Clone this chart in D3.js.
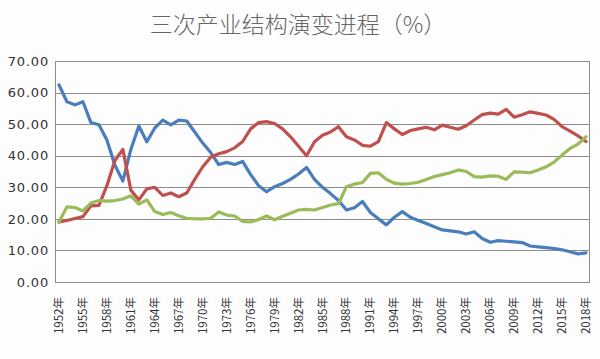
<!DOCTYPE html>
<html>
<head>
<meta charset="utf-8">
<script src="https://cdn.jsdelivr.net/npm/d3@7"></script>
<style>
html,body{margin:0;padding:0;background:#fdfdfd;}
svg{display:block;}
</style>
</head>
<body>
<svg id="chart" width="600" height="359"></svg>
<script>
const title = "三次产业结构演变进程（%）";
const years = d3.range(1952, 2019);
const yTicks = [0, 10, 20, 30, 40, 50, 60, 70];
const primary = [62.4,57.1,56.1,57.1,50.5,49.8,45,37,32,42,49.4,44.4,48.8,51.3,49.8,51.3,51,47.5,44,41,37.2,37.9,37.2,38.2,34,30.5,28.6,30.2,31.2,32.5,34.2,36.3,32.5,30,28,25.8,22.8,23.5,25.5,22,20,18.1,20.5,22.3,20.5,19.5,18.5,17.5,16.5,16.2,15.9,15.2,15.9,13.8,12.6,13.1,12.9,12.7,12.5,11.4,11.1,10.9,10.6,10.2,9.6,8.9,9.2];
const secondary = [19,19.5,20.1,20.7,24.1,24.3,30.5,38.5,42,29.1,26,29.5,30,27.4,28.2,27,28.2,32.5,36.5,39.5,40.6,41.3,42.5,44.5,48.5,50.5,50.8,50.2,48.5,46,43,40,44.4,46.5,47.5,49.2,46,45,43.3,43,44.5,50.5,48.5,46.7,48,48.5,49,48.2,49.7,49,48.4,49.5,51.3,53,53.5,53.2,54.7,52.2,53,53.9,53.4,52.9,51.5,49.2,47.8,46.3,44.5];
const tertiary = [19,23.8,23.6,22.5,25,25.8,25.6,25.8,26.3,27.3,24.7,26,22.3,21.4,22,21,20.2,20,20,20.2,22.2,21.2,20.9,19.2,19,19.8,20.9,19.7,20.8,21.8,22.8,23,22.8,23.6,24.4,24.8,30.2,31,31.5,34.4,34.6,32.5,31.3,31,31.2,31.6,32.5,33.4,34,34.6,35.5,35,33.4,33.2,33.6,33.5,32.5,34.9,34.8,34.6,35.5,36.5,38,40.2,42.3,43.7,46];
const seriesNames = ["第一产业", "第二产业", "第三产业"];
const seriesColors = ["#4a7ebb", "#c0504d", "#9bbb59"];

const svg = d3.select("#chart");
const L = 55, R = 590, T = 61, B = 282;

const x = d3.scaleBand().domain(years).range([L, R]).padding(0);
const y = d3.scaleLinear().domain([0, 70]).range([B, T]);

// title
svg.append("text").attr("x", 298).attr("y", 33)
  .attr("text-anchor", "middle")
  .attr("font-family", "'Noto Sans CJK SC', sans-serif")
  .attr("font-size", 23).attr("font-weight", 300).attr("fill", "#666")
  .text(title);

// gridlines
svg.append("g").selectAll("line").data(yTicks).join("line")
  .attr("x1", L).attr("x2", R)
  .attr("y1", d => Math.round(y(d)) + 0.5).attr("y2", d => Math.round(y(d)) + 0.5)
  .attr("stroke", "#8c8c8c").attr("stroke-width", 1);

// frame
svg.append("rect").attr("x", L + 0.5).attr("y", Math.round(T) + 0.5)
  .attr("width", R - L - 1).attr("height", Math.round(B) - Math.round(T))
  .attr("fill", "none").attr("stroke", "#8c8c8c").attr("stroke-width", 1);

// y axis labels
const yAxis = d3.axisLeft(y).tickValues(yTicks).tickFormat(d3.format(".2f")).tickSize(0).tickPadding(6);
const gy = svg.append("g").attr("transform", `translate(${L},0)`).call(yAxis);
gy.select(".domain").remove();
gy.selectAll("text").attr("font-family", "'DejaVu Sans', sans-serif")
  .attr("font-size", 13).attr("fill", "#333").attr("letter-spacing", 0.8);

// x axis labels
const xAxis = d3.axisBottom(x).tickValues(years.filter(d => (d - 1952) % 3 === 0))
  .tickFormat(d => d + "年").tickSize(0).tickPadding(0);
const gx = svg.append("g").attr("transform", `translate(0,${B})`).call(xAxis);
gx.select(".domain").remove();
gx.selectAll("text")
  .attr("font-family", "'Noto Sans CJK SC', sans-serif")
  .attr("font-size", 11.5).attr("fill", "#333")
  .attr("text-anchor", "end")
  .attr("dy", "0.35em")
  .attr("transform", "translate(0,15) rotate(-90)")
  .attr("x", 0).attr("y", 0);

// lines
const line = d3.line().x((d, i) => x(years[i]) + x.bandwidth() / 2).y(d => y(d));
[primary, secondary, tertiary].forEach((s, k) => {
  svg.append("path").datum(s)
    .attr("d", line)
    .attr("fill", "none")
    .attr("stroke", seriesColors[k])
    .attr("stroke-width", 3.2)
    .attr("stroke-linejoin", "round")
    .attr("stroke-linecap", "round")
    .append("title").text(seriesNames[k]);
});
</script>
</body>
</html>
